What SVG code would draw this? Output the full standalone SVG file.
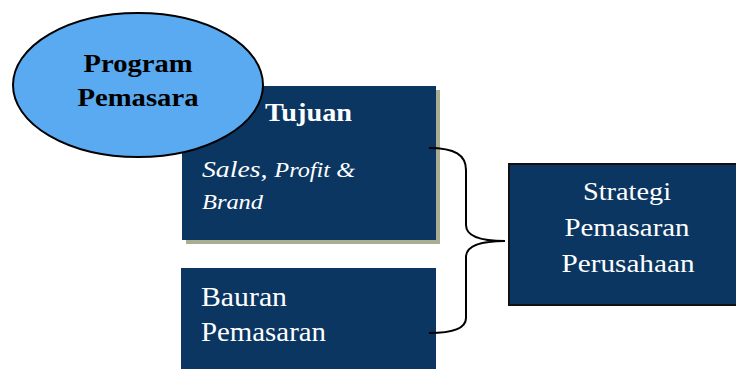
<svg xmlns="http://www.w3.org/2000/svg" width="736" height="369" viewBox="0 0 736 369">
<style>
.box{fill:#0a3661}
.wt{fill:#ffffff;font-family:"Liberation Serif","DejaVu Serif",serif}
.bk{fill:#000000;font-family:"Liberation Serif","DejaVu Serif",serif;font-weight:bold}
.conn{fill:none;stroke:#000;stroke-width:2}
</style>
<rect width="736" height="369" fill="#ffffff"/>
<g id="tujuan">
<rect x="186" y="90" width="254" height="154" fill="#a9ae92"/>
<rect class="box" x="182" y="86" width="254" height="154"/>
<text class="wt" x="265" y="121" font-size="26" font-weight="bold" textLength="87" lengthAdjust="spacingAndGlyphs">Tujuan</text>
<text class="wt" x="202" y="177" font-size="24" font-style="italic" textLength="153" lengthAdjust="spacingAndGlyphs">Sales, <tspan font-size="21">Profit &amp;</tspan></text>
<text class="wt" x="202" y="209" font-size="22" font-style="italic" textLength="61" lengthAdjust="spacingAndGlyphs">Brand</text>
</g>
<g id="bauran">
<rect class="box" x="181" y="268" width="255" height="101"/>
<text class="wt" x="201" y="306" font-size="27" textLength="86" lengthAdjust="spacingAndGlyphs">Bauran</text>
<text class="wt" x="201" y="341" font-size="27" textLength="125" lengthAdjust="spacingAndGlyphs">Pemasaran</text>
</g>
<g id="strategi">
<rect class="box" x="509" y="164" width="230" height="141" stroke="#111" stroke-width="2"/>
<text class="wt" x="627" y="200" font-size="26" text-anchor="middle" textLength="88" lengthAdjust="spacingAndGlyphs">Strategi</text>
<text class="wt" x="627" y="236" font-size="26" text-anchor="middle" textLength="125" lengthAdjust="spacingAndGlyphs">Pemasaran</text>
<text class="wt" x="628" y="272" font-size="26" text-anchor="middle" textLength="133" lengthAdjust="spacingAndGlyphs">Perusahaan</text>
</g>
<g id="program">
<ellipse cx="138" cy="85" rx="125" ry="72" fill="#59aaf0" stroke="#000" stroke-width="2"/>
<text class="bk" x="138" y="72" font-size="26" text-anchor="middle" textLength="109" lengthAdjust="spacingAndGlyphs">Program</text>
<text class="bk" x="138" y="106" font-size="26" text-anchor="middle" textLength="121" lengthAdjust="spacingAndGlyphs">Pemasara</text>
</g>
<g id="connectors">
<path class="conn" d="M429,148 C455,148 466,155 466,170 L466,225 C466,236 480,241 505,241 C480,241 466,246 466,257 L466,318 C466,328 455,333 429,333"/>
</g>
</svg>
